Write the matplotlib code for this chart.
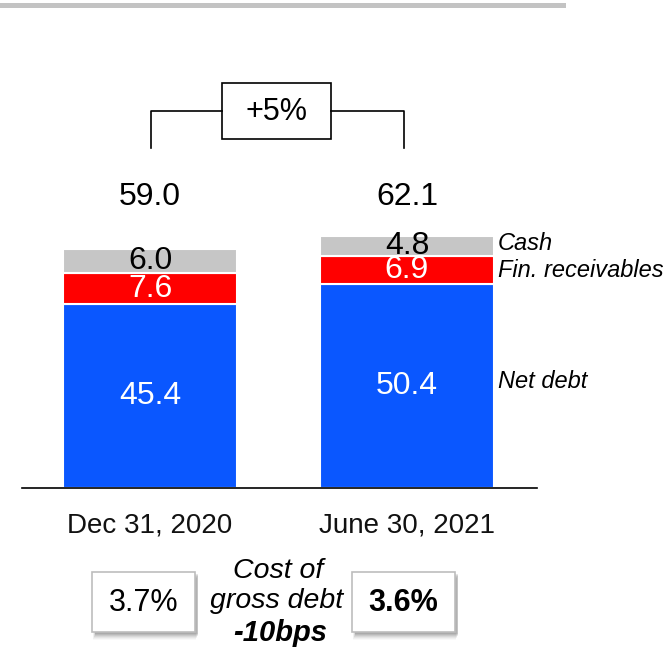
import matplotlib
matplotlib.use("Agg")
import matplotlib.pyplot as plt
from matplotlib.patches import Rectangle
from matplotlib.lines import Line2D
import numpy as np

plt.rcParams['font.family'] = ['Liberation Sans', 'DejaVu Sans']

# ---- data ----
categories = ["Dec 31, 2020", "June 30, 2021"]
net_debt = [45.4, 50.4]
fin_receivables = [7.6, 6.9]
cash = [6.0, 4.8]
totals = [59.0, 62.1]
series_names = ["Net debt", "Fin. receivables", "Cash"]
growth_label = "+5%"
cost_of_debt = ["3.7%", "3.6%"]
cost_title = ["Cost of", "gross debt"]
cost_change = "-10bps"

colors = {"Net debt": "#0a57ff", "Fin. receivables": "#ff0000", "Cash": "#c6c6c6"}

W, H = 671, 650
fig = plt.figure(figsize=(W / 100, H / 100), dpi=100)
ax = fig.add_axes([0, 0, 1, 1])
ax.axis("off")

base_px = 488            # baseline pixel (from top)
ppu = 4.05               # pixels per unit
c0, spacing = 150, 257   # first bar centre and spacing in pixels
ax.set_ylim(-(H - base_px) / ppu, base_px / ppu)
ax.set_xlim(-c0 / spacing, (W - c0) / spacing)

x = np.arange(len(categories))
width = 174 / spacing

nd = np.array(net_debt)
fr = np.array(fin_receivables)
ca = np.array(cash)

b1 = ax.bar(x, nd, width, color=colors["Net debt"], edgecolor="white", linewidth=1.5)
b2 = ax.bar(x, fr, width, bottom=nd, color=colors["Fin. receivables"], edgecolor="white", linewidth=1.5)
b3 = ax.bar(x, ca, width, bottom=nd + fr, color=colors["Cash"], edgecolor="white", linewidth=1.5)

ax.bar_label(b1, labels=[f"{v:.1f}" for v in nd], label_type="center", color="white", fontsize=23)
ax.bar_label(b2, labels=[f"{v:.1f}" for v in fr], label_type="center", color="white", fontsize=23)
ax.bar_label(b3, labels=[f"{v:.1f}" for v in ca], label_type="center", color="black", fontsize=23)

def fx(px):
    return px / W

def fy(py):
    return 1 - py / H

# baseline
fig.add_artist(Line2D([fx(22), fx(537)], [fy(488), fy(488)], color="black", lw=1.2))

# top gray rule
fig.add_artist(Rectangle((0, fy(8)), fx(566), 5 / H, color="#c3c3c3", lw=0))

# totals
for i, t in enumerate(totals):
    fig.text(fx(c0 + spacing * i), fy(197), f"{t:.1f}", fontsize=23, ha="center", va="center")

# category labels
for i, c in enumerate(categories):
    fig.text(fx(c0 + spacing * i), fy(526), c, fontsize=20, ha="center", va="center", color="#111111")

# series labels on the right
leg_y = {"Cash": 243, "Fin. receivables": 270, "Net debt": 381}
for s in series_names:
    fig.text(fx(498), fy(leg_y[s]), s, fontsize=17, style="italic", ha="left", va="center")

# bracket with growth box
fig.add_artist(Line2D([fx(151), fx(151), fx(222)], [fy(148), fy(111), fy(111)], color="black", lw=1.2))
fig.add_artist(Line2D([fx(331), fx(404), fx(404)], [fy(111), fy(111), fy(148)], color="black", lw=1.2))
fig.add_artist(Rectangle((fx(222), fy(139)), fx(109), 56 / H, facecolor="white", edgecolor="black", lw=1.2))
fig.text(fx(276.5), fy(112), growth_label, fontsize=22, ha="center", va="center")

# cost of debt boxes with soft shadow
def shadow_box(x0, y0, w, h):
    for k, a in zip(range(7, 0, -1), [0.03, 0.05, 0.07, 0.09, 0.11, 0.13, 0.15]):
        fig.add_artist(Rectangle((fx(x0 + 1 + (7 - k) * 0.4), fy(y0 + h + 1 + k)), fx(w), h / H,
                                 facecolor="#555555", edgecolor="none", alpha=a))
    fig.add_artist(Rectangle((fx(x0), fy(y0 + h)), fx(w), h / H, facecolor="white",
                             edgecolor="#bdbdbd", lw=1.2))

shadow_box(92, 572, 103, 60)
shadow_box(352, 572, 103, 60)
fig.text(fx(143.5), fy(603), cost_of_debt[0], fontsize=22, ha="center", va="center")
fig.text(fx(403.5), fy(603), cost_of_debt[1], fontsize=22, fontweight="bold", ha="center", va="center")

fig.text(fx(278), fy(571), cost_title[0], fontsize=20.5, style="italic", ha="center", va="center")
fig.text(fx(277), fy(601), cost_title[1], fontsize=20.5, style="italic", ha="center", va="center")
fig.text(fx(280), fy(633), cost_change, fontsize=21, style="italic", fontweight="bold", ha="center", va="center")

fig.savefig("out.png", dpi=100)
